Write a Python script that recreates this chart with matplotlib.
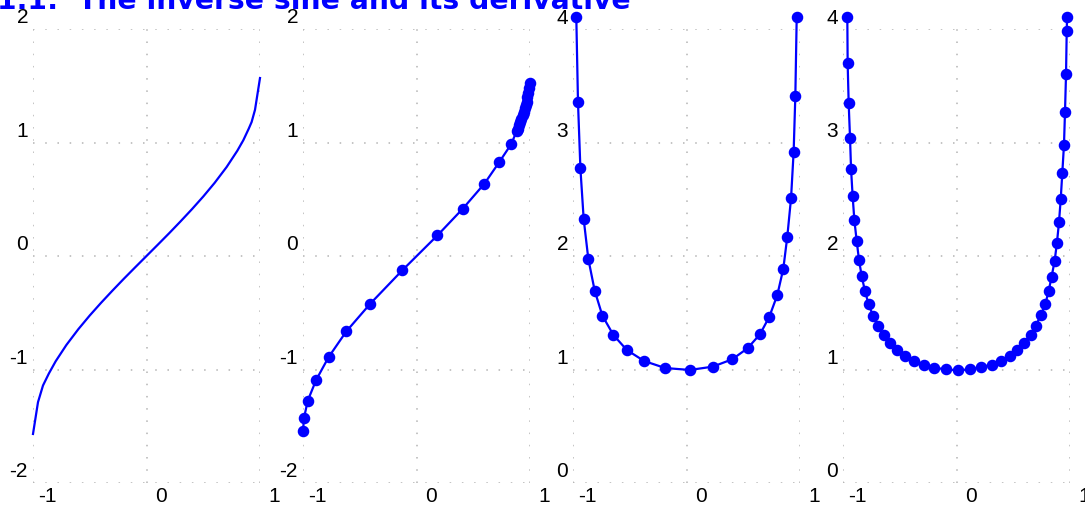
import matplotlib
matplotlib.use('Agg')
import matplotlib.pyplot as plt
from matplotlib.transforms import ScaledTranslation, blended_transform_factory

# ---------------- data ----------------
title = "1.1:  The inverse sine and its derivative"

x_line = [-1.0, -0.956, -0.912, -0.86, -0.8, -0.706, -0.6, -0.5, -0.4, -0.3, -0.2,
          -0.1, 0.0, 0.1, 0.2, 0.3, 0.4, 0.5, 0.6, 0.706, 0.8, 0.853, 0.9,
          0.926, 0.956, 1.0]
y_line = [-1.568, -1.288, -1.141, -1.035, -0.927, -0.784, -0.644, -0.524, -0.412,
          -0.305, -0.201, -0.100, 0.0, 0.100, 0.201, 0.305, 0.412, 0.524, 0.644,
          0.784, 0.927, 1.020, 1.120, 1.180, 1.288, 1.568]

x_pts = [-1.0, -0.991, -0.958, -0.884, -0.775, -0.619, -0.408, -0.126, 0.185,
         0.408, 0.599, 0.731, 0.834, 0.884, 0.895, 0.905, 0.915, 0.925, 0.935,
         0.945, 0.955, 0.962, 0.970, 0.977, 0.985, 0.992, 0.997]
y_pts = [-1.54, -1.426, -1.274, -1.092, -0.892, -0.665, -0.421, -0.127, 0.182,
         0.417, 0.638, 0.830, 0.985, 1.103, 1.12, 1.15, 1.18, 1.21, 1.24,
         1.27, 1.30, 1.33, 1.36, 1.40, 1.44, 1.48, 1.52]

x_d1 = [-0.971, -0.956, -0.935, -0.906, -0.865, -0.809, -0.741, -0.644, -0.526,
        -0.374, -0.188, 0.029, 0.232, 0.403, 0.538, 0.647, 0.729, 0.800, 0.853,
        0.888, 0.921, 0.944, 0.959, 0.971]
y_d1 = [4.109, 3.354, 2.775, 2.326, 1.974, 1.695, 1.474, 1.304, 1.172,
        1.075, 1.013, 0.996, 1.025, 1.090, 1.187, 1.310, 1.463, 1.656, 1.888,
        2.170, 2.508, 2.919, 3.413, 4.109]

x_d2 = [-0.962, -0.959, -0.950, -0.938, -0.929, -0.915, -0.900, -0.879, -0.859,
        -0.835, -0.806, -0.774, -0.735, -0.688, -0.641, -0.585, -0.521, -0.450,
        -0.371, -0.285, -0.194, -0.094, 0.009, 0.118, 0.215, 0.309, 0.394,
        0.471, 0.535, 0.594, 0.653, 0.700, 0.741, 0.782, 0.812, 0.838, 0.865,
        0.885, 0.903, 0.918, 0.932, 0.947, 0.956, 0.965, 0.971, 0.974]
y_d2 = [4.109, 3.697, 3.345, 3.037, 2.764, 2.526, 2.317, 2.129, 1.965,
        1.821, 1.689, 1.574, 1.471, 1.380, 1.301, 1.233, 1.172, 1.119,
        1.075, 1.040, 1.016, 1.001, 0.993, 1.001, 1.019, 1.043, 1.078,
        1.122, 1.175, 1.236, 1.307, 1.386, 1.477, 1.574, 1.692, 1.818, 1.959,
        2.117, 2.297, 2.499, 2.728, 2.981, 3.272, 3.601, 3.979, 4.109]

x_ticks = [-1, 0, 1]
x_ticklabels = ["-1", "0", "1"]
y_ticks_a = [-2, -1, 0, 1, 2]
y_ticklabels_a = ["-2", "-1", "0", "1", "2"]
y_ticks_b = [0, 1, 2, 3, 4]
y_ticklabels_b = ["0", "1", "2", "3", "4"]

# ---------------- figure ----------------
W, H = 1085, 510
DPI = 100
fig = plt.figure(figsize=(W / DPI, H / DPI), dpi=DPI)
BLUE = '#0000ff'
LABEL_FONT = dict(family=['Liberation Sans', 'DejaVu Sans'], size=15, color='black')


def make_axes(left_px, ylim, yticks, yticklabels):
    ax = fig.add_axes([left_px / W, 26 / H, 227 / W, 454 / H])
    ax.set_xlim(-1, 1)
    ax.set_ylim(*ylim)
    ax.set_xticks(x_ticks)
    ax.set_yticks(yticks)
    ax.tick_params(length=0, labelbottom=False, labelleft=False)
    for s in ax.spines.values():
        s.set_visible(False)
    ax.grid(True, color='#b4b4b4', linestyle=(0, (1, 7)), linewidth=1.1)
    ax.set_facecolor('none')
    tx = blended_transform_factory(ax.transData, ax.transAxes) + \
        ScaledTranslation(14 / DPI, -13 / DPI, fig.dpi_scale_trans)
    for v, lab in zip(x_ticks, x_ticklabels):
        ax.text(v, 0, lab, transform=tx, ha='center', va='center', **LABEL_FONT)
    ty = blended_transform_factory(ax.transAxes, ax.transData) + \
        ScaledTranslation(-5 / DPI, 12 / DPI, fig.dpi_scale_trans)
    for v, lab in zip(yticks, yticklabels):
        ax.text(0, v, lab, transform=ty, ha='right', va='center', **LABEL_FONT)
    return ax


ax1 = make_axes(33, (-2, 2), y_ticks_a, y_ticklabels_a)
ax1.plot(x_line, y_line, color=BLUE, lw=1.6, clip_on=False)

ax2 = make_axes(303, (-2, 2), y_ticks_a, y_ticklabels_a)
ax2.plot(x_pts, y_pts, color=BLUE, lw=1.6, marker='o', ms=7.3, clip_on=False)

ax3 = make_axes(573, (0, 4), y_ticks_b, y_ticklabels_b)
ax3.plot(x_d1, y_d1, color=BLUE, lw=1.6, marker='o', ms=7.3, clip_on=False)

ax4 = make_axes(843, (0, 4), y_ticks_b, y_ticklabels_b)
ax4.plot(x_d2, y_d2, color=BLUE, lw=1.6, marker='o', ms=7.3, clip_on=False)

fig.text(-3 / W, 1 - 9 / H, title, color=BLUE, fontweight='bold',
         family='DejaVu Sans', fontsize=20.3, ha='left', va='baseline')

fig.savefig('out.png', dpi=DPI)
